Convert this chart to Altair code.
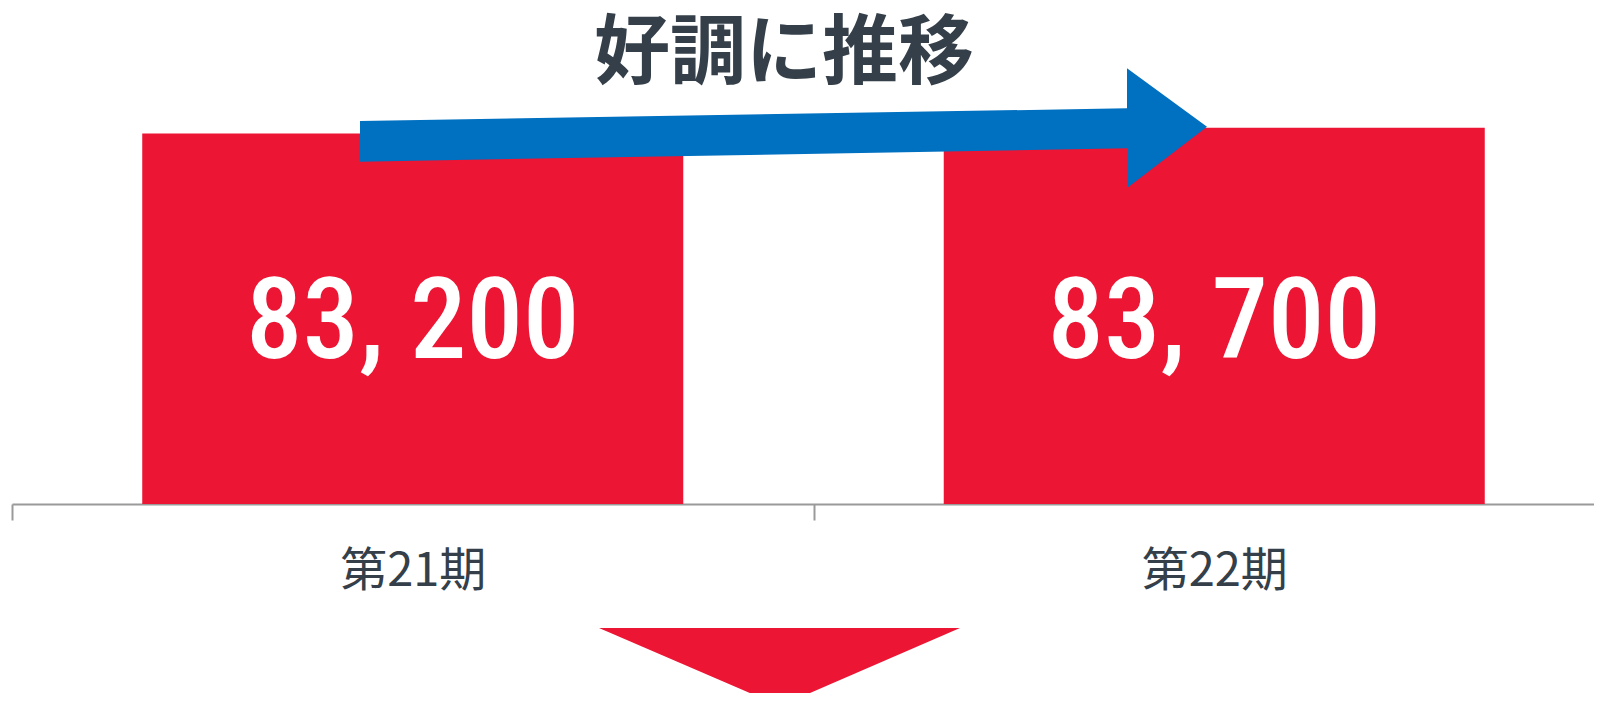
import altair as alt
import pandas as pd

periods = ["第21期", "第22期"]
values = [83200, 83700]
value_labels = ["83, 200", "83, 700"]
title_text = "好調に推移"

y_min, y_max = 50700, 94200

RED = "#EC1534"
BLUE = "#0070C0"
DARK = "#343F49"

df = pd.DataFrame({"period": periods, "value": values, "label": value_labels})

x_enc = alt.X(
    "period:N",
    sort=periods,
    scale=alt.Scale(paddingInner=0, paddingOuter=0, range=[0, 1603]),
    axis=alt.Axis(
        title=None,
        labelAngle=0,
        labelFont="Noto Sans CJK JP",
        labelFontSize=47,
        labelColor=DARK,
        labelPadding=28,
        tickBand="extent",
        tickSize=16,
        tickWidth=2,
        tickColor="#9A9A9A",
        domainColor="#9A9A9A",
        domainWidth=2,
        grid=False,
    ),
)

bars = alt.Chart(df).mark_bar(color=RED, width=alt.RelativeBandSize(0.675)).encode(
    x=x_enc,
    y=alt.Y("value:Q", scale=alt.Scale(domain=[y_min, y_max], zero=False, nice=False), axis=None),
    y2=alt.datum(y_min),
)

value_text = alt.Chart(df).mark_text(
    color="white",
    font="Roboto Condensed, Roboto, sans-serif",
    fontWeight=500,
    fontSize=113,
    baseline="middle",
    align="center",
).encode(
    x=alt.X("period:N", sort=periods),
    y=alt.value(316),
    text="label:N",
)

deco = pd.DataFrame({"k": [0]})

blue_arrow = alt.Chart(deco).mark_point(
    shape="M -420 -6 L 347 -18.7 L 347 -58.7 L 427 -0.3 L 348 60.3 L 348 21.3 L -420 34.7 Z",
    size=4,
    filled=True,
    fill=BLUE,
    opacity=1,
).encode(x=alt.value(768), y=alt.value(119))

down_arrow = alt.Chart(deco).mark_point(
    shape="M -181 -32 L 180 -32 L 0 46 Z",
    size=4,
    filled=True,
    fill=RED,
    opacity=1,
).encode(x=alt.value(768), y=alt.value(652))

title = alt.Chart(pd.DataFrame({"t": [title_text]})).mark_text(
    font="Noto Sans CJK JP",
    fontWeight="bold",
    fontSize=76,
    color=DARK,
    baseline="middle",
    align="center",
).encode(x=alt.value(772), y=alt.value(47), text="t:N")

chart = (
    alt.layer(bars, blue_arrow, value_text, title, down_arrow)
    .properties(
        width=1582,
        height=496,
        autosize=alt.AutoSizeParams(type="none"),
        padding={"left": 4, "top": 0, "right": 0, "bottom": 189},
        background="white",
    )
    .configure_view(stroke=None)
)

chart.save("out.html", embed_options={"renderer": "svg", "actions": False})
